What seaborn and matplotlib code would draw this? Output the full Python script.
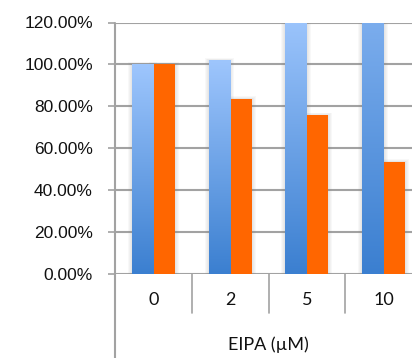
import numpy as np
import pandas as pd
import matplotlib
matplotlib.use("Agg")
import matplotlib.pyplot as plt
from matplotlib.colors import LinearSegmentedColormap
from matplotlib.patches import Rectangle
from matplotlib.lines import Line2D
import seaborn as sns

# EIPA concentrations (µM) and the two measured series, in percent of control
categories = ["0", "2", "5", "10"]
series_names = ["Series 1", "Series 2"]
series1 = [100.0, 101.8, 124.0, 185.0]
series2 = [100.0, 83.5, 75.7, 53.5]
y_ticks = [0, 20, 40, 60, 80, 100, 120]
x_title = "EIPA (µM)"

df = pd.DataFrame({
    "EIPA": categories * 2,
    "value": series1 + series2,
    "series": [series_names[0]] * len(categories) + [series_names[1]] * len(categories),
})

sns.set_theme(style="white")
plt.rcParams["font.family"] = ["Liberation Sans", "DejaVu Sans"]

W, H = 412, 358
fig = plt.figure(figsize=(W / 100, H / 100), dpi=100)
left_px, right_px, top_px, bottom_px = 115, 422, 22.5, 274
ax = fig.add_axes([left_px / W, 1 - bottom_px / H,
                   (right_px - left_px) / W, (bottom_px - top_px) / H])

grid_c = "#a2a2a2"
blue_dark, blue_light = "#3b7fd0", "#9ec6fd"
orange = "#ff6600"
ymax = 120

sns.barplot(data=df, x="EIPA", y="value", hue="series", order=categories,
            hue_order=series_names, palette=[blue_light, orange], saturation=1,
            width=0.56, gap=0, legend=False, ax=ax, zorder=3,
            edgecolor="none", linewidth=0)

ax.set_ylim(0, ymax)
ax.set_xlim(-0.5, len(categories) - 0.5)
ax.set_yticks(y_ticks)
ax.set_yticklabels([f"{v:.2f}%" for v in y_ticks], fontsize=12.5, color="#111111")
ax.set_xticks([])
ax.set_xlabel("")
ax.set_ylabel("")

for s in ax.spines.values():
    s.set_visible(False)
ax.yaxis.grid(True, color=grid_c, linewidth=1.5, zorder=0)
ax.set_axisbelow(True)
ax.tick_params(axis="y", which="both", left=True, length=5, width=1.2,
               color=grid_c, pad=11)

# gradient fill on the first series, soft halo behind every bar
px = len(categories) / (right_px - left_px)
cmap = LinearSegmentedColormap.from_list("blue_grad", [blue_dark, blue_light])
grad = np.linspace(0, 1, 512).reshape(-1, 1)
n = len(categories)
for i, bar in enumerate(list(ax.patches)):
    x0, w, h = bar.get_x(), bar.get_width(), bar.get_height()
    for k in range(1, 5):
        ax.add_patch(Rectangle((x0 - k * px, 0), w + 2 * k * px, min(h, ymax) + 0.3 * k,
                               facecolor="#808080", alpha=0.05, edgecolor="none",
                               zorder=2))
    if i < n:
        ax.imshow(grad, extent=[x0, x0 + w, 0, h], origin="lower",
                  cmap=cmap, aspect="auto", zorder=3.5, interpolation="bilinear")

ax.set_ylim(0, ymax)
ax.set_xlim(-0.5, len(categories) - 0.5)

# left axis line running down past the category band
ax.add_line(Line2D([-0.5, -0.5], [1.0, -0.36], transform=ax.get_xaxis_transform(),
                   color=grid_c, linewidth=1.5, clip_on=False, zorder=5))
# category separators
for xb in np.arange(0.5, len(categories) - 0.5, 1.0):
    ax.add_line(Line2D([xb, xb], [0, -0.155], transform=ax.get_xaxis_transform(),
                       color=grid_c, linewidth=1.2, clip_on=False, zorder=5))
# category labels and axis title
for i, c in enumerate(categories):
    ax.text(i, -0.103, c, transform=ax.get_xaxis_transform(), ha="center",
            va="center", fontsize=13, family=["Lato", "DejaVu Sans"], color="#111111")
ax.text(0.5, -0.28, x_title, transform=ax.transAxes, ha="center", va="center",
        fontsize=13, family=["Lato", "DejaVu Sans"], color="#111111")

fig.savefig("out.png", dpi=100)
